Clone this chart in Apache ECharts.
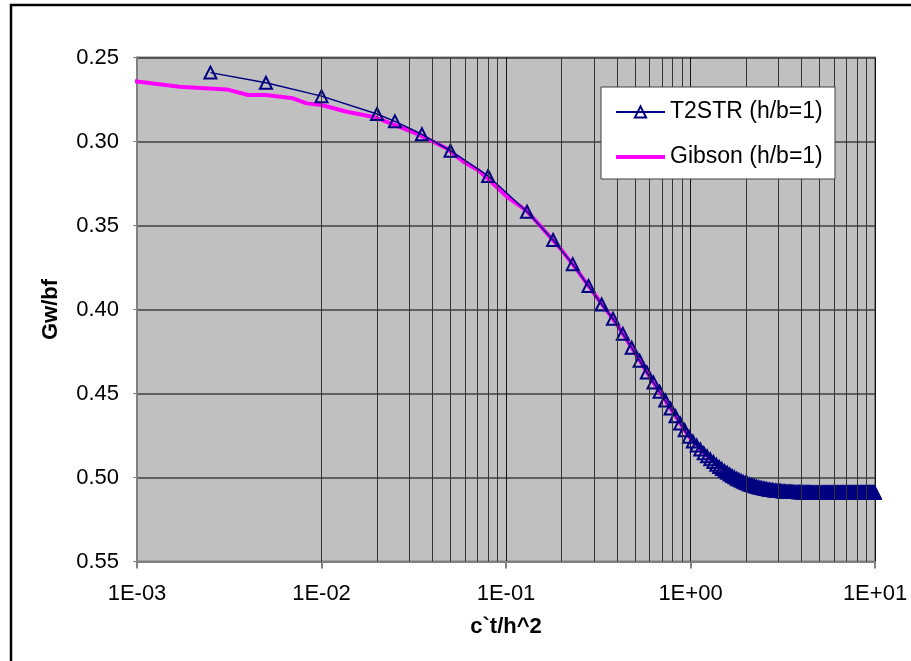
<!DOCTYPE html>
<html>
<head>
<meta charset="utf-8">
<script src="https://cdn.jsdelivr.net/npm/echarts@6/dist/echarts.min.js"></script>
<style>
html,body{margin:0;padding:0;background:#fff;}
#chart{width:911px;height:661px;}
</style>
</head>
<body>
<div id="chart"></div>
<script>
// ---- data ----
const t2strX = [0.0025,0.005,0.01,0.02,0.025,0.035,0.05,0.08,0.13,0.18,0.23,0.28,0.33,0.38,0.43,0.48,0.53,0.58,0.63,0.68,0.73,0.78,0.83,0.88,0.93,0.98,
1.03,1.08,1.13,1.18,1.23,1.28,1.33,1.38,1.43,1.48,1.53,1.58,1.63,1.68,1.73,1.78,1.83,1.88,1.93,1.98,
2.03,2.08,2.13,2.18,2.23,2.28,2.33,2.38,2.43,2.48,2.53,2.58,2.63,2.68,2.73,2.78,2.83,2.88,2.93,2.98,
3.03,3.08,3.13,3.18,3.23,3.28,3.33,3.38,3.43,3.48,3.53,3.58,3.63,3.68,3.73,3.78,3.83,3.88,3.93,3.98,
4.03,4.08,4.13,4.18,4.23,4.28,4.33,4.38,4.43,4.48,4.53,4.58,4.63,4.68,4.73,4.78,4.83,4.88,4.93,4.98,
5.03,5.08,5.13,5.18,5.23,5.28,5.33,5.38,5.43,5.48,5.53,5.58,5.63,5.68,5.73,5.78,5.83,5.88,5.93,5.98,
6.03,6.08,6.13,6.18,6.23,6.28,6.33,6.38,6.43,6.48,6.53,6.58,6.63,6.68,6.73,6.78,6.83,6.88,6.93,6.98,
7.03,7.08,7.13,7.18,7.23,7.28,7.33,7.38,7.43,7.48,7.53,7.58,7.63,7.68,7.73,7.78,7.83,7.88,7.93,7.98,
8.03,8.08,8.13,8.18,8.23,8.28,8.33,8.38,8.43,8.48,8.53,8.58,8.63,8.68,8.73,8.78,8.83,8.88,8.93,8.98,
9.03,9.08,9.13,9.18,9.23,9.28,9.33,9.38,9.43,9.48,9.53,9.58,9.63,9.68,9.73,9.78,9.83,9.88,9.93,9.98];

const t2strY = [0.259,0.265,0.273,0.2836,0.288,0.2957,0.3055,0.3205,0.3418,0.3586,0.373,0.386,0.397,0.4055,0.4145,0.4228,0.4305,0.4375,0.4435,0.449,0.4542,0.459,0.4636,0.4679,0.4719,0.4757,
0.4785,0.4810,0.4833,0.4855,0.4874,0.4892,0.4908,0.4924,0.4937,0.4950,0.4962,0.4972,0.4982,0.4991,0.4999,0.5007,0.5014,0.5020,0.5026,0.5031,
0.5036,0.5041,0.5045,0.5048,0.5052,0.5055,0.5058,0.5061,0.5063,0.5065,0.5067,0.5069,0.5071,0.5073,0.5074,0.5075,0.5077,0.5078,0.5079,0.5080,
0.5080,0.5081,0.5082,0.5083,0.5083,0.5084,0.5084,0.5085,0.5085,0.5086,0.5086,0.5086,0.5087,0.5087,0.5087,0.5087,0.5088,0.5088,0.5088,0.5088,
0.5089,0.5089,0.5089,0.5089,0.5089,0.5089,0.5089,0.5089,0.5089,0.5089,0.509,0.509,0.509,0.509,0.509,0.509,0.509,0.509,0.509,0.509,
0.509,0.509,0.509,0.509,0.509,0.509,0.509,0.509,0.509,0.509,0.509,0.509,0.509,0.509,0.509,0.509,0.509,0.509,0.509,0.509,
0.509,0.509,0.509,0.509,0.509,0.509,0.509,0.509,0.509,0.509,0.509,0.509,0.509,0.509,0.509,0.509,0.509,0.509,0.509,0.509,
0.509,0.509,0.509,0.509,0.509,0.509,0.509,0.509,0.509,0.509,0.509,0.509,0.509,0.509,0.509,0.509,0.509,0.509,0.509,0.509,
0.509,0.509,0.509,0.509,0.509,0.509,0.509,0.509,0.509,0.509,0.509,0.509,0.509,0.509,0.509,0.509,0.509,0.509,0.509,0.509,
0.509,0.509,0.509,0.509,0.509,0.509,0.509,0.509,0.509,0.509,0.509,0.509,0.509,0.509,0.509,0.509,0.509,0.509,0.509,0.509];

const gibsonX = [0.00092,0.0017,0.00306,0.004,0.005,0.007,0.0083,0.01,0.0137,0.0195,0.0245,0.034,0.0475,0.0587,0.0705,0.0784,0.1013,0.129,0.15,0.2,0.25,0.3,0.4,0.5,0.6,0.7,0.8,0.9,1.0,1.15,1.3];
const gibsonY = [0.2638,0.2674,0.269,0.2723,0.2723,0.2743,0.2773,0.2783,0.2823,0.2856,0.2898,0.2961,0.304,0.312,0.317,0.3215,0.3329,0.3412,0.349,0.3645,0.3785,0.3905,0.409,0.4259,0.4399,0.4511,0.4608,0.4695,0.4768,0.4842,0.4898];

const seriesNames = ['T2STR (h/b=1)', 'Gibson (h/b=1)'];
const xTitle = 'c`t/h^2';
const yTitle = 'Gw/bf';
const xMin = 0.001, xMax = 10;
const yMin = 0.25, yMax = 0.55, yStep = 0.05;

// ---- chart ----
const zip = (xs, ys) => xs.map((x, i) => [x, ys[i]]);
const minorLines = [];
for (let d = xMin; d < xMax * 0.99; d *= 10) {
  for (let k = 2; k <= 9; k++) minorLines.push({ xAxis: +(d * k).toPrecision(3) });
}
const fmtX = v => {
  const e = Math.round(Math.log10(v));
  return '1E' + (e < 0 ? '-' : '+') + String(Math.abs(e)).padStart(2, '0');
};
const FONT = 'Liberation Sans, Arial, sans-serif';
const NAVY = '#000080', MAGENTA = '#FF00FF';

const chart = echarts.init(document.getElementById('chart'), null, { renderer: 'canvas' });
chart.setOption({
  animation: false,
  backgroundColor: '#ffffff',
  grid: {
    left: 137, right: 36, top: 57.5, bottom: 99.5,
    show: true, backgroundColor: '#C0C0C0', borderColor: '#808080', borderWidth: 2
  },
  xAxis: {
    type: 'log', logBase: 10, min: xMin, max: xMax,
    name: xTitle, nameLocation: 'middle', nameGap: 54,
    nameTextStyle: { fontFamily: FONT, fontSize: 22, fontWeight: 'bold', color: '#000' },
    axisLine: { show: true, lineStyle: { color: '#808080', width: 2 } },
    axisTick: { show: true, length: 7, lineStyle: { color: '#808080', width: 2 } },
    axisLabel: { formatter: fmtX, fontFamily: FONT, fontSize: 22, color: '#000', margin: 21 },
    splitLine: { show: true, lineStyle: { color: '#111', width: 1 } }
  },
  yAxis: {
    type: 'value', inverse: true, min: yMin, max: yMax, interval: yStep,
    name: yTitle, nameLocation: 'middle', nameGap: 75, nameRotate: 90,
    nameTextStyle: { fontFamily: FONT, fontSize: 22, fontWeight: 'bold', color: '#000' },
    axisLine: { show: true, lineStyle: { color: '#808080', width: 2 } },
    axisTick: { show: true, length: 4, lineStyle: { color: '#808080' } },
    axisLabel: { formatter: v => v.toFixed(2), fontFamily: FONT, fontSize: 22, color: '#000', margin: 18 },
    splitLine: { show: true, lineStyle: { color: '#404040', width: 1.5 } }
  },
  legend: {
    orient: 'vertical', left: 614, top: 100, padding: 0, itemGap: 21,
    itemWidth: 49, itemHeight: 14,
    textStyle: { fontFamily: FONT, fontSize: 23, color: '#000', lineHeight: 24 },
    data: [
      { name: seriesNames[0] },
      { name: seriesNames[1],
        lineStyle: { color: MAGENTA, width: 4 },
        itemStyle: { color: 'rgba(0,0,0,0)', borderColor: 'rgba(0,0,0,0)', borderWidth: 0 } }
    ],
    z: 10
  },
  graphic: [
    { type: 'rect', z: 1, silent: true, shape: { x: 11, y: 5, width: 1000, height: 1000 },
      style: { fill: 'none', stroke: '#000', lineWidth: 2.5 } },
    { type: 'rect', z: 8, silent: true, shape: { x: 601, y: 87, width: 234, height: 92 },
      style: { fill: '#fff', stroke: '#404040', lineWidth: 1 } }
  ],
  series: [
    {
      type: 'line', name: 'minor', data: [], z: 1, silent: true,
      markLine: { silent: true, symbol: ['none', 'none'], label: { show: false }, animation: false,
        lineStyle: { color: '#333', width: 1, type: 'solid' }, data: minorLines }
    },
    {
      type: 'line', name: seriesNames[1], data: zip(gibsonX, gibsonY), z: 2,
      showSymbol: false, symbol: 'circle', clip: false,
      lineStyle: { color: MAGENTA, width: 4 },
      itemStyle: { color: 'rgba(0,0,0,0)', borderColor: 'rgba(0,0,0,0)', borderWidth: 0 }
    },
    {
      type: 'line', name: seriesNames[0], data: zip(t2strX, t2strY), z: 3,
      symbol: 'triangle', symbolSize: 12, showAllSymbol: true,
      lineStyle: { color: NAVY, width: 1.5 },
      itemStyle: { color: 'rgba(0,0,0,0)', borderColor: NAVY, borderWidth: 2 }
    }
  ]
});
</script>
</body>
</html>
